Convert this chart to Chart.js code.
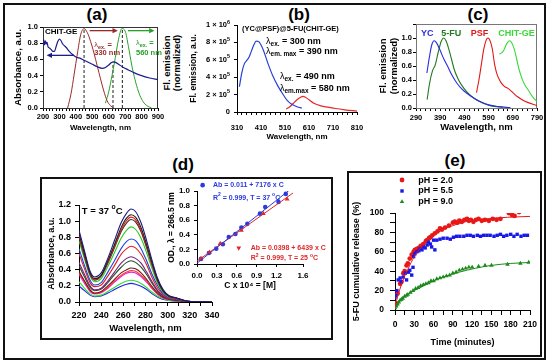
<!DOCTYPE html>
<html>
<head>
<meta charset="utf-8">
<script src="https://cdn.jsdelivr.net/npm/chart.js@4.4.0/dist/chart.umd.min.js"></script>
<style>
  body { margin: 0; background: #fff; }
  #fig { position: relative; width: 550px; height: 363px; overflow: hidden;
         font-family: "Liberation Sans", Arial, sans-serif; font-weight: bold; color: #000; }
  #fig canvas { position: absolute; left: 0; top: 0; }
  .box { position: absolute; border: 2px solid #111; box-sizing: border-box; }
  .pt { position: absolute; transform: translate(-50%, -50%); font-size: 17px; }
  .vt { position: absolute; transform: translate(-50%, -50%) rotate(-90deg);
        text-align: center; white-space: nowrap; }
</style>
</head>
<body>
<div id="fig">
  <div class="box" style="left:3px;top:3px;width:543px;height:357px"></div>
  <div class="box" style="left:40px;top:177px;width:293px;height:163px"></div>
  <div class="box" style="left:347px;top:171px;width:195px;height:186px"></div>
  <div class="pt" style="left:97px;top:15px">(a)</div>
  <div class="pt" style="left:299px;top:15px">(b)</div>
  <div class="pt" style="left:478px;top:15px">(c)</div>
  <div class="pt" style="left:183px;top:165px">(d)</div>
  <div class="pt" style="left:455px;top:161px">(e)</div>
  <div class="vt" style="left:172px;top:63px;font-size:9.5px;line-height:10px">Fl. emission<br>(normalized)</div>
  <canvas id="chartA" width="550" height="363"></canvas>
  <canvas id="chartB" width="550" height="363"></canvas>
  <canvas id="chartC" width="550" height="363"></canvas>
  <canvas id="chartD" width="550" height="363"></canvas>
  <canvas id="chartDin" width="550" height="363"></canvas>
  <canvas id="chartE" width="550" height="363"></canvas>
</div>
<script>
// ---- (a) absorbance of CHIT-GE and emission at two excitations
const absWave = [200, 205, 210, 215, 220, 225, 230, 240, 250, 260, 270, 280, 290, 300, 310, 320, 340, 360, 380, 400, 430, 460, 500, 530, 560, 580, 600, 615, 630, 645, 660, 690, 720, 760, 800, 850, 900];
const absVal = [0.80, 0.84, 0.78, 0.83, 0.79, 0.81, 0.76, 0.74, 0.72, 0.70, 0.70, 0.76, 0.82, 0.85, 0.83, 0.79, 0.75, 0.70, 0.66, 0.63, 0.61, 0.58, 0.54, 0.51, 0.49, 0.50, 0.53, 0.56, 0.57, 0.56, 0.54, 0.50, 0.47, 0.43, 0.40, 0.37, 0.35];
const em330Wave = [350, 370, 390, 410, 430, 450, 470, 490, 510, 530, 550, 570, 590, 610, 630];
const em330Val = [0, 0.17, 0.42, 0.68, 0.91, 0.98, 0.93, 0.82, 0.68, 0.52, 0.36, 0.21, 0.09, 0.03, 0.0];
const em560Wave = [580, 600, 620, 640, 660, 680, 700, 720, 740, 760, 780, 800, 820, 840, 860];
const em560Val = [0.06, 0.2, 0.4, 0.62, 0.85, 0.98, 0.95, 0.76, 0.53, 0.35, 0.21, 0.11, 0.05, 0.02, 0.0];
const dashWave = [450, 626, 683];
const dashTop = [0.98, 0.56, 0.98];

// ---- (b) emission of (YC@PSF)@5-FU(CHIT-GE)
const bBlueWave = [320, 330, 340, 350, 360, 370, 380, 390, 400, 410, 420, 440, 460, 480, 500, 520, 540, 560, 580];
const bBlueVal = [290000, 450000, 550000, 590000, 630000, 700000, 770000, 815000, 810000, 770000, 710000, 550000, 410000, 300000, 210000, 130000, 85000, 60000, 45000];
const bRedWave = [515, 530, 545, 560, 575, 585, 595, 610, 630, 660, 690, 720, 760, 810];
const bRedVal = [35000, 60000, 100000, 140000, 170000, 180000, 170000, 140000, 100000, 70000, 55000, 40000, 25000, 10000];
const bXTicks = [310, 330, 350, 370, 390, 410, 430, 450, 470, 490, 510, 530, 550, 570, 590, 610, 630, 650, 670, 690, 710, 730, 750, 770, 790, 810];
const bYTicks = [0, 200000, 400000, 600000, 800000, 1000000];
const bYMant = ['0', '2 × 10', '4 × 10', '6 × 10', '8 × 10', '1 × 10'];
const bYExp = ['', '5', '5', '5', '5', '6'];

// ---- (c) normalized emission of components
const ycWave = [335, 345, 355, 365, 375, 390, 405, 420, 440, 460, 480, 500, 520, 550, 590, 630, 680];
const ycVal = [0.5, 0.72, 0.9, 0.96, 0.93, 0.82, 0.7, 0.6, 0.46, 0.35, 0.27, 0.21, 0.16, 0.1, 0.045, 0.02, 0.005];
const fuWave = [336, 346, 358, 370, 382, 394, 404, 414, 424, 435, 448, 462, 478, 500, 530, 565, 600, 650];
const fuVal = [0.12, 0.35, 0.53, 0.62, 0.8, 0.95, 1.0, 0.96, 0.86, 0.72, 0.55, 0.43, 0.33, 0.23, 0.14, 0.07, 0.03, 0.01];
const psfWave = [540, 550, 560, 570, 580, 587, 595, 605, 615, 625, 640, 655, 670, 690, 710, 740, 790];
const psfVal = [0.22, 0.4, 0.62, 0.84, 0.97, 1.0, 0.97, 0.85, 0.62, 0.48, 0.37, 0.31, 0.28, 0.22, 0.16, 0.095, 0.035];
const cgWave = [634, 645, 655, 665, 676, 686, 696, 706, 716, 728, 740, 755, 770, 790];
const cgVal = [0.77, 0.79, 0.84, 0.92, 0.96, 0.93, 0.84, 0.7, 0.55, 0.42, 0.33, 0.25, 0.17, 0.09];

// ---- (d) 5-FU spectra at increasing concentration, T = 37 C
const dWave = [220, 225, 230, 234, 240, 246, 252, 258, 263, 267, 271, 276, 281, 286, 291, 296, 301, 308, 318, 340];
const dSpectra = [
  [0.89, 0.63, 0.38, 0.31, 0.36, 0.54, 0.76, 0.98, 1.10, 1.15, 1.12, 0.98, 0.76, 0.51, 0.29, 0.15, 0.08, 0.05, 0.01, 0],
  [0.85, 0.60, 0.36, 0.29, 0.33, 0.51, 0.71, 0.92, 1.04, 1.08, 1.05, 0.92, 0.71, 0.48, 0.27, 0.14, 0.075, 0.05, 0.01, 0],
  [0.83, 0.58, 0.35, 0.28, 0.33, 0.49, 0.69, 0.89, 1.01, 1.05, 1.02, 0.89, 0.69, 0.46, 0.26, 0.14, 0.07, 0.045, 0.01, 0],
  [0.80, 0.56, 0.34, 0.27, 0.32, 0.48, 0.67, 0.87, 0.98, 1.02, 0.99, 0.87, 0.67, 0.45, 0.26, 0.13, 0.07, 0.045, 0.01, 0],
  [0.76, 0.53, 0.32, 0.25, 0.29, 0.44, 0.61, 0.79, 0.89, 0.93, 0.90, 0.79, 0.61, 0.41, 0.23, 0.12, 0.065, 0.04, 0.01, 0],
  [0.66, 0.45, 0.27, 0.21, 0.24, 0.37, 0.51, 0.66, 0.75, 0.78, 0.76, 0.66, 0.51, 0.34, 0.20, 0.10, 0.055, 0.035, 0.01, 0],
  [0.60, 0.41, 0.24, 0.19, 0.21, 0.32, 0.45, 0.59, 0.66, 0.69, 0.67, 0.59, 0.46, 0.30, 0.17, 0.09, 0.05, 0.03, 0.01, 0],
  [0.49, 0.34, 0.20, 0.15, 0.17, 0.26, 0.37, 0.48, 0.54, 0.56, 0.54, 0.48, 0.37, 0.25, 0.14, 0.075, 0.04, 0.03, 0.01, 0],
  [0.45, 0.31, 0.18, 0.14, 0.16, 0.24, 0.34, 0.43, 0.49, 0.51, 0.49, 0.43, 0.34, 0.23, 0.13, 0.07, 0.04, 0.025, 0.005, 0],
  [0.38, 0.26, 0.15, 0.11, 0.13, 0.20, 0.28, 0.36, 0.40, 0.42, 0.41, 0.36, 0.28, 0.19, 0.11, 0.06, 0.035, 0.02, 0.005, 0],
  [0.36, 0.25, 0.14, 0.105, 0.12, 0.18, 0.26, 0.33, 0.37, 0.39, 0.38, 0.33, 0.26, 0.17, 0.10, 0.055, 0.03, 0.02, 0.005, 0],
  [0.34, 0.23, 0.13, 0.10, 0.115, 0.17, 0.245, 0.315, 0.355, 0.37, 0.36, 0.315, 0.245, 0.165, 0.095, 0.05, 0.03, 0.02, 0.005, 0],
  [0.25, 0.17, 0.10, 0.075, 0.085, 0.13, 0.18, 0.23, 0.26, 0.27, 0.26, 0.23, 0.18, 0.12, 0.07, 0.04, 0.02, 0.015, 0.005, 0],
  [0.20, 0.14, 0.085, 0.065, 0.075, 0.11, 0.155, 0.195, 0.22, 0.23, 0.22, 0.195, 0.155, 0.10, 0.06, 0.03, 0.02, 0.01, 0.005, 0]
];
const dColors = ['#1b1b7a', '#202020', '#e02020', '#4a2a15', '#22cc22', '#2040e0', '#e02020',
                 '#7b1f7b', '#205020', '#7a1515', '#ff3030', '#e020e0', '#33dd33', '#2020ee'];

// ---- (d) inset: calibration at 266.5 nm
const calBlueC = [0.06, 0.18, 0.29, 0.39, 0.48, 0.58, 0.67, 0.76, 0.95, 1.03, 1.23, 1.34];
const calBlueAb = [0.07, 0.15, 0.21, 0.27, 0.37, 0.41, 0.50, 0.55, 0.69, 0.78, 0.85, 0.96];
const calRedC = [0.06, 0.19, 0.35, 0.67, 1.00, 1.36];
const calRedAb = [0.07, 0.16, 0.28, 0.46, 0.69, 0.89];
const fitC = [0, 1.45];
const fitBlueAb = [0.011, 1.052];
const fitRedAb = [0.040, 0.973];
const insetXTicks = [0, 0.3, 0.6, 0.9, 1.2, 1.6];

// ---- (e) 5-FU release
const redT = [0, 1.5, 4, 8, 10, 13, 15, 18, 20, 23, 26, 29, 31, 34, 37, 40, 44, 48, 50, 53, 55, 58, 62, 66, 70, 73, 78, 84, 90, 93, 97, 100, 104, 108, 112, 115, 118, 122, 126, 130, 135, 140, 146, 152, 158, 164, 177, 182, 186, 193];
const redY = [5, 7, 17, 27, 29, 38, 40, 46, 48, 53, 57, 60, 62, 63, 64, 66, 68, 71, 72, 74, 75, 77, 79, 81, 84, 83, 85, 87, 90, 91, 90, 92, 91, 93, 94, 92, 93, 91, 93, 94, 92, 93, 92, 94, 93, 94, 100, 98, 97, 101];
const blueT = [0, 1.5, 3, 5, 8, 10, 13, 16, 18, 21, 23, 26, 28, 29, 31, 34, 37, 39, 42, 44, 47, 50, 52, 55, 57, 60, 62, 65, 70, 75, 81, 86, 91, 96, 101, 107, 112, 117, 122, 128, 133, 138, 143, 148, 154, 159, 164, 169, 174, 180, 185, 190, 196, 201, 206];
const blueY = [13, 15, 20, 31, 33, 29, 34, 38, 31, 39, 41, 36, 44, 55, 58, 60, 61, 63, 62, 65, 64, 67, 70, 68, 65, 72, 62, 72, 73, 74, 74, 73, 75, 76, 76, 76, 77, 77, 76, 77, 76, 77, 77, 77, 76, 77, 78, 76, 77, 78, 76, 78, 76, 77, 77];
const greenT = [0, 2, 4, 6, 8, 10, 12, 15, 18, 20, 24, 28, 32, 36, 40, 44, 48, 52, 56, 60, 65, 70, 75, 80, 85, 90, 95, 100, 105, 110, 115, 120, 130, 140, 150, 175, 195, 208];
const greenY = [2, 4, 6, 8, 10, 11, 12, 14, 15, 16, 18, 20, 22, 23, 25, 26, 27, 28, 30, 30, 32, 33, 34, 35, 36, 38, 39, 41, 42, 43, 44, 44, 45, 46, 46, 47, 48, 49];
const redFitT = [0, 5, 10, 15, 20, 30, 40, 50, 60, 75, 90, 110, 130, 160, 190, 210];
const redFitY = [3, 16, 26, 35, 42, 55, 64, 71, 77, 83, 87, 91, 93, 95, 96, 96.5];
const greenFitT = [0, 5, 10, 20, 30, 45, 60, 80, 100, 125, 150, 180, 210];
const greenFitY = [1, 7, 11, 16, 20, 25, 30, 35, 39, 43, 46, 48, 49];
const phLabels = ['pH = 2.0', 'pH = 5.5', 'pH = 9.0'];

const FONT = '"Liberation Sans", Arial, sans-serif';
Chart.defaults.font.family = FONT;
Chart.defaults.font.weight = 'bold';
Chart.defaults.color = '#000';
Chart.defaults.animation = false;
Chart.defaults.events = [];
Chart.defaults.plugins.legend.display = false;
Chart.defaults.plugins.tooltip.enabled = false;

// Text notes, markers and arrows placed in data coordinates
function drawNotes(chart, notes) {
  const ctx = chart.ctx, xs = chart.scales.x, ys = chart.scales.y;
  (notes.arrows || []).forEach(function (a) {
    const x1 = xs.getPixelForValue(a.x1), y1 = ys.getPixelForValue(a.y1);
    const x2 = xs.getPixelForValue(a.x2), y2 = ys.getPixelForValue(a.y2);
    const ang = Math.atan2(y2 - y1, x2 - x1), h = 6;
    ctx.save();
    ctx.strokeStyle = a.color;
    ctx.fillStyle = a.color;
    ctx.lineWidth = 1.3;
    ctx.beginPath();
    ctx.moveTo(x1, y1);
    ctx.lineTo(x2 - h * 0.8 * Math.cos(ang), y2 - h * 0.8 * Math.sin(ang));
    ctx.stroke();
    ctx.beginPath();
    ctx.moveTo(x2, y2);
    ctx.lineTo(x2 - h * Math.cos(ang - 0.45), y2 - h * Math.sin(ang - 0.45));
    ctx.lineTo(x2 - h * Math.cos(ang + 0.45), y2 - h * Math.sin(ang + 0.45));
    ctx.closePath();
    ctx.fill();
    ctx.restore();
  });
  (notes.items || []).forEach(function (n) {
    let x = n.px !== undefined ? n.px : xs.getPixelForValue(n.x);
    const y = ys.getPixelForValue(n.y);
    ctx.save();
    ctx.fillStyle = n.color || '#000';
    ctx.strokeStyle = n.color || '#000';
    if (n.marker) {
      Chart.helpers.drawPoint(ctx, { pointStyle: n.marker, radius: n.r || 2.5, borderWidth: 0, rotation: n.rot || 0 }, x, y);
    }
    if (n.parts) {
      const size = n.size || 8;
      const parts = n.parts.map(function (p) {
        const part = typeof p === 'string' ? { t: p } : p;
        const s = (part.sub || part.sup) ? size * 0.72 : size;
        return { t: part.t, font: (part.normal ? '' : 'bold ') + s + 'px ' + FONT,
                 dy: part.sub ? size * 0.32 : (part.sup ? -size * 0.38 : 0) };
      });
      if (n.align === 'right') {
        parts.forEach(function (p) { ctx.font = p.font; x -= ctx.measureText(p.t).width; });
      }
      ctx.textBaseline = 'middle';
      parts.forEach(function (p) {
        ctx.font = p.font;
        ctx.fillText(p.t, x, y + p.dy);
        x += ctx.measureText(p.t).width;
      });
    }
    ctx.restore();
  });
}

function xy(xs, ys) {
  return xs.map(function (x, i) { return { x: x, y: ys[i] }; });
}

function curve(xs, ys, color, width) {
  return { data: xy(xs, ys), showLine: true, borderColor: color, borderWidth: width || 1,
           pointRadius: 0, cubicInterpolationMode: 'monotone', fill: false };
}

function dots(xs, ys, color, style, r) {
  return { data: xy(xs, ys), showLine: false, backgroundColor: color, borderColor: color,
           borderWidth: 0, pointStyle: style, pointRadius: r };
}

// Label only the ticks that fall on base + k * step
function every(step, digits, base) {
  return function (v) {
    const k = (v - (base || 0)) / step;
    return Math.abs(k - Math.round(k)) < 1e-6 ? v.toFixed(digits) : '';
  };
}

// Linear axis with a fixed box width (y) or height (x)
function axis(o) {
  const a = {
    type: 'linear', position: o.pos, min: o.min, max: o.max,
    afterFit: function (s) { if (o.pos === 'left') s.width = o.size; else s.height = o.size; },
    border: { display: true, color: '#000', width: 1 },
    grid: { display: true, drawOnChartArea: false, drawTicks: true, tickLength: o.tl, color: '#000' },
    ticks: { autoSkip: false, maxRotation: 0, padding: o.pad,
             font: { size: o.fs, weight: 'bold' }, callback: o.cb },
    title: { display: true, text: o.title, font: { size: o.tfs, weight: 'bold' },
             padding: { top: o.tpad || 0, bottom: o.tpad || 0 } }
  };
  if (o.step) a.ticks.stepSize = o.step;
  if (o.tickList) {
    a.afterBuildTicks = function (s) { s.ticks = o.tickList.map(function (v) { return { value: v }; }); };
  }
  return a;
}

function make(id, datasets, scales, padding, frameColor, notes) {
  const extra = {
    id: 'extra',
    beforeDatasetsDraw: function (chart) {
      if (!frameColor) return;
      const a = chart.chartArea, ctx = chart.ctx;
      ctx.save();
      ctx.strokeStyle = frameColor;
      ctx.lineWidth = 1;
      ctx.strokeRect(a.left + 0.5, a.top + 0.5, a.right - a.left - 1, a.bottom - a.top);
      ctx.restore();
    },
    afterDatasetsDraw: function (chart) {
      if (notes) drawNotes(chart, notes);
    }
  };
  return new Chart(document.getElementById(id), {
    type: 'scatter',
    data: { datasets: datasets },
    options: {
      responsive: false, devicePixelRatio: 1,
      layout: { padding: padding },
      scales: scales
    },
    plugins: [extra]
  });
}

// (a)
const dsA = [
  curve(absWave, absVal, '#1c1c8c', 1.2),
  curve(em330Wave, em330Val, '#9a2a2a', 1),
  curve(em560Wave, em560Val, '#2aa02a', 1)
];
dashWave.forEach(function (w, i) {
  dsA.push({ data: xy([w, w], [0, dashTop[i]]), showLine: true, borderColor: '#222', borderWidth: 1,
             borderDash: [3, 2], pointRadius: 0, tension: 0 });
});
make('chartA', dsA, {
  x: axis({ pos: 'bottom', min: 200, max: 900, step: 20, size: 28, tl: 3, pad: 1.5, fs: 7.5,
            cb: every(100, 0), title: 'Wavelength, nm', tfs: 8, tpad: 3 }),
  y: axis({ pos: 'left', min: 0, max: 1, step: 0.2, size: 34, tl: 3, pad: 2, fs: 7.5,
            cb: every(0.2, 1), title: 'Absorbance, a.u.', tfs: 9.5, tpad: 4 })
}, { left: 9, top: 27, right: 392, bottom: 227 }, '#333', {
  arrows: [
    { x1: 389, y1: 0.65, x2: 222, y2: 0.65, color: '#1c1c8c' },
    { x1: 484, y1: 0.955, x2: 656, y2: 0.955, color: '#9a2a2a' },
    { x1: 717, y1: 0.955, x2: 879, y2: 0.955, color: '#2aa02a' }
  ],
  items: [
    { x: 212, y: 0.94, parts: ['CHIT-GE'], size: 8 },
    { x: 512, y: 0.78, parts: [{ t: 'λ', normal: true }, { t: 'ex.', sub: true }, ' ='], size: 7.5, color: '#9a2a2a' },
    { x: 512, y: 0.675, parts: ['330 nm'], size: 7.5, color: '#9a2a2a' },
    { x: 766, y: 0.8, parts: [{ t: 'λ', normal: true }, { t: 'ex.', sub: true }, ' ='], size: 7.5, color: '#2aa02a' },
    { x: 766, y: 0.675, parts: ['560 nm'], size: 7.5, color: '#2aa02a' }
  ]
});

// (b): y labels carry a real superscript, so they are drawn as notes
const bYNotes = bYTicks.map(function (v, i) {
  return { px: 230, y: v, align: 'right', size: 7.5,
           parts: bYExp[i] ? [bYMant[i], { t: bYExp[i], sup: true }] : [bYMant[i]] };
});
make('chartB', [
  curve(bBlueWave, bBlueVal, '#2840e0', 1.2),
  curve(bRedWave, bRedVal, '#e62828', 1.2)
], {
  x: axis({ pos: 'bottom', min: 310, max: 810, tickList: bXTicks, size: 30, tl: 3, pad: 8, fs: 7.5,
            cb: every(100, 0, 310), title: 'Wavelength, nm', tfs: 8, tpad: 0 }),
  y: axis({ pos: 'left', min: 0, max: 1000000, tickList: bYTicks, size: 51, tl: 3, pad: 4, fs: 7,
            cb: function () { return ''; }, title: 'Fl. emission, a.u.', tfs: 8.5, tpad: 3 })
}, { left: 186, top: 25, right: 193, bottom: 221 }, null, {
  items: bYNotes.concat([
    { x: 331, y: 954000, parts: ['(YC@PSF)@5-FU(CHIT-GE)'], size: 7.5 },
    { x: 431, y: 808000, parts: [{ t: 'λ', normal: true }, { t: 'ex.', sub: true }, ' = 300 nm'], size: 9 },
    { x: 431, y: 693000, parts: [{ t: 'λ', normal: true }, { t: 'em. max', sub: true }, ' = 390 nm'], size: 9 },
    { x: 489, y: 406000, parts: [{ t: 'λ', normal: true }, { t: 'ex.', sub: true }, ' = 490 nm'], size: 9 },
    { x: 489, y: 272000, parts: [{ t: 'λ', normal: true }, { t: 'em.max', sub: true }, ' = 580 nm'], size: 9 }
  ])
});

// (c)
make('chartC', [
  curve(ycWave, ycVal, '#2b2be0', 1.1),
  curve(fuWave, fuVal, '#1f7a1f', 1.1),
  curve(psfWave, psfVal, '#e01818', 1.1),
  curve(cgWave, cgVal, '#3ad83a', 1.1)
], {
  x: axis({ pos: 'bottom', min: 290, max: 790, step: 20, size: 25, tl: 3, pad: 2, fs: 7.5,
            cb: every(100, 0, 290), title: 'Wavelength, nm', tfs: 9.5, tpad: 0 }),
  y: axis({ pos: 'left', min: 0, max: 1.2, step: 0.2, size: 40, tl: 3, pad: 1, fs: 7.5,
            cb: function (v) { return v > 1.05 ? '' : v.toFixed(1); },
            title: ['Fl. emission', '(normalized)'], tfs: 9.5, tpad: 1.5 })
}, { left: 376, top: 24, right: 13, bottom: 230 }, '#777', {
  items: [
    { x: 311, y: 1.067, parts: ['YC'], size: 9, color: '#2b2be0' },
    { x: 394, y: 1.067, parts: ['5-FU'], size: 9, color: '#1f7a1f' },
    { x: 516, y: 1.067, parts: ['PSF'], size: 9, color: '#e01818' },
    { x: 630, y: 1.067, parts: ['CHIT-GE'], size: 9, color: '#3ad83a' }
  ]
});

// (d) main
make('chartD', dSpectra.map(function (s, i) { return curve(dWave, s, dColors[i], 1.1); }), {
  x: axis({ pos: 'bottom', min: 220, max: 340, step: 10, size: 32, tl: 4, pad: 4.5, fs: 9,
            cb: every(20, 0), title: 'Wavelength, nm', tfs: 9.5, tpad: 0 }),
  y: axis({ pos: 'left', min: 0, max: 1.2, step: 0.2, size: 33, tl: 4, pad: 4, fs: 9,
            cb: every(0.2, 1), title: 'Absorbance, a.u.', tfs: 9, tpad: 0.6 })
}, { left: 46, top: 205, right: 338, bottom: 29 }, null, {
  items: [
    { x: 222.5, y: 1.125, parts: ['T = 37 ', { t: 'o', sup: true }, 'C'], size: 9.5 }
  ]
});

// (d) inset
make('chartDin', [
  { data: xy(fitC, fitBlueAb), showLine: true, borderColor: '#2b3be0', borderWidth: 1, pointRadius: 0, tension: 0 },
  { data: xy(fitC, fitRedAb), showLine: true, borderColor: '#e02828', borderWidth: 1, pointRadius: 0, tension: 0 },
  dots(calRedC, calRedAb, '#e02828', 'triangle', 2.8),
  dots(calBlueC, calBlueAb, '#2b3be0', 'circle', 2.3)
], {
  x: axis({ pos: 'bottom', min: 0, max: 1.6, size: 27, tl: 3, pad: 4, fs: 8, tickList: insetXTicks,
            cb: function (v) { return v.toFixed(1); }, title: 'C x 10⁴ = [M]', tfs: 8.5, tpad: 0 }),
  y: axis({ pos: 'left', min: 0, max: 1, step: 0.2, size: 32, tl: 3, pad: 4, fs: 8,
            cb: every(0.2, 1), title: 'OD., λ = 266.5 nm', tfs: 8.5, tpad: 1.9 })
}, { left: 165, top: 191, right: 247, bottom: 72 }, null, {
  items: [
    { x: 0.085, y: 1.08, marker: 'circle', r: 2.3, color: '#2b3be0' },
    { x: 0.24, y: 1.08, parts: ['Ab = 0.011 + 7176 x C'], size: 7, color: '#2b3be0' },
    { x: 0.24, y: 0.91, parts: ['R', { t: '2', sup: true }, ' = 0.999, T = 37 ', { t: 'o', sup: true }, 'C'], size: 7, color: '#2b3be0' },
    { x: 0.63, y: 0.22, marker: 'triangle', r: 2.8, rot: 180, color: '#e02828' },
    { x: 0.81, y: 0.22, parts: ['Ab = 0.0398 + 6439 x C'], size: 7, color: '#e02828' },
    { x: 0.81, y: 0.08, parts: ['R', { t: '2', sup: true }, ' = 0.999, T = 25 ', { t: 'o', sup: true }, 'C'], size: 7, color: '#e02828' }
  ]
});

// (e)
make('chartE', [
  curve(redFitT, redFitY, '#e81818', 1),
  curve(greenFitT, greenFitY, '#1a8a1a', 1),
  dots(greenT, greenY, '#1a8a1a', 'triangle', 2.6),
  dots(blueT, blueY, '#1818e8', 'rect', 2.4),
  dots(redT, redY, '#e81818', 'circle', 2.4)
], {
  x: axis({ pos: 'bottom', min: 0, max: 210, step: 15, size: 38, tl: 5, pad: 5, fs: 8.5,
            cb: every(30, 0), title: 'Time (minutes)', tfs: 9, tpad: 0 }),
  y: axis({ pos: 'left', min: 0, max: 100, step: 10, size: 44, tl: 5, pad: 6, fs: 8.5,
            cb: every(20, 0), title: '5-FU cumulative release (%)', tfs: 9, tpad: 0.6 })
}, { left: 351, top: 213, right: 20, bottom: 15 }, null, {
  items: [
    { x: 10.9, y: 134, marker: 'circle', r: 2.4, color: '#e81818' },
    { x: 36.2, y: 134, parts: [phLabels[0]], size: 9 },
    { x: 10.9, y: 122.7, marker: 'rect', r: 2.4, color: '#1818e8' },
    { x: 36.2, y: 122.7, parts: [phLabels[1]], size: 9 },
    { x: 10.9, y: 111.6, marker: 'triangle', r: 2.6, color: '#1a8a1a' },
    { x: 36.2, y: 111.6, parts: [phLabels[2]], size: 9 }
  ]
});
</script>
</body>
</html>
